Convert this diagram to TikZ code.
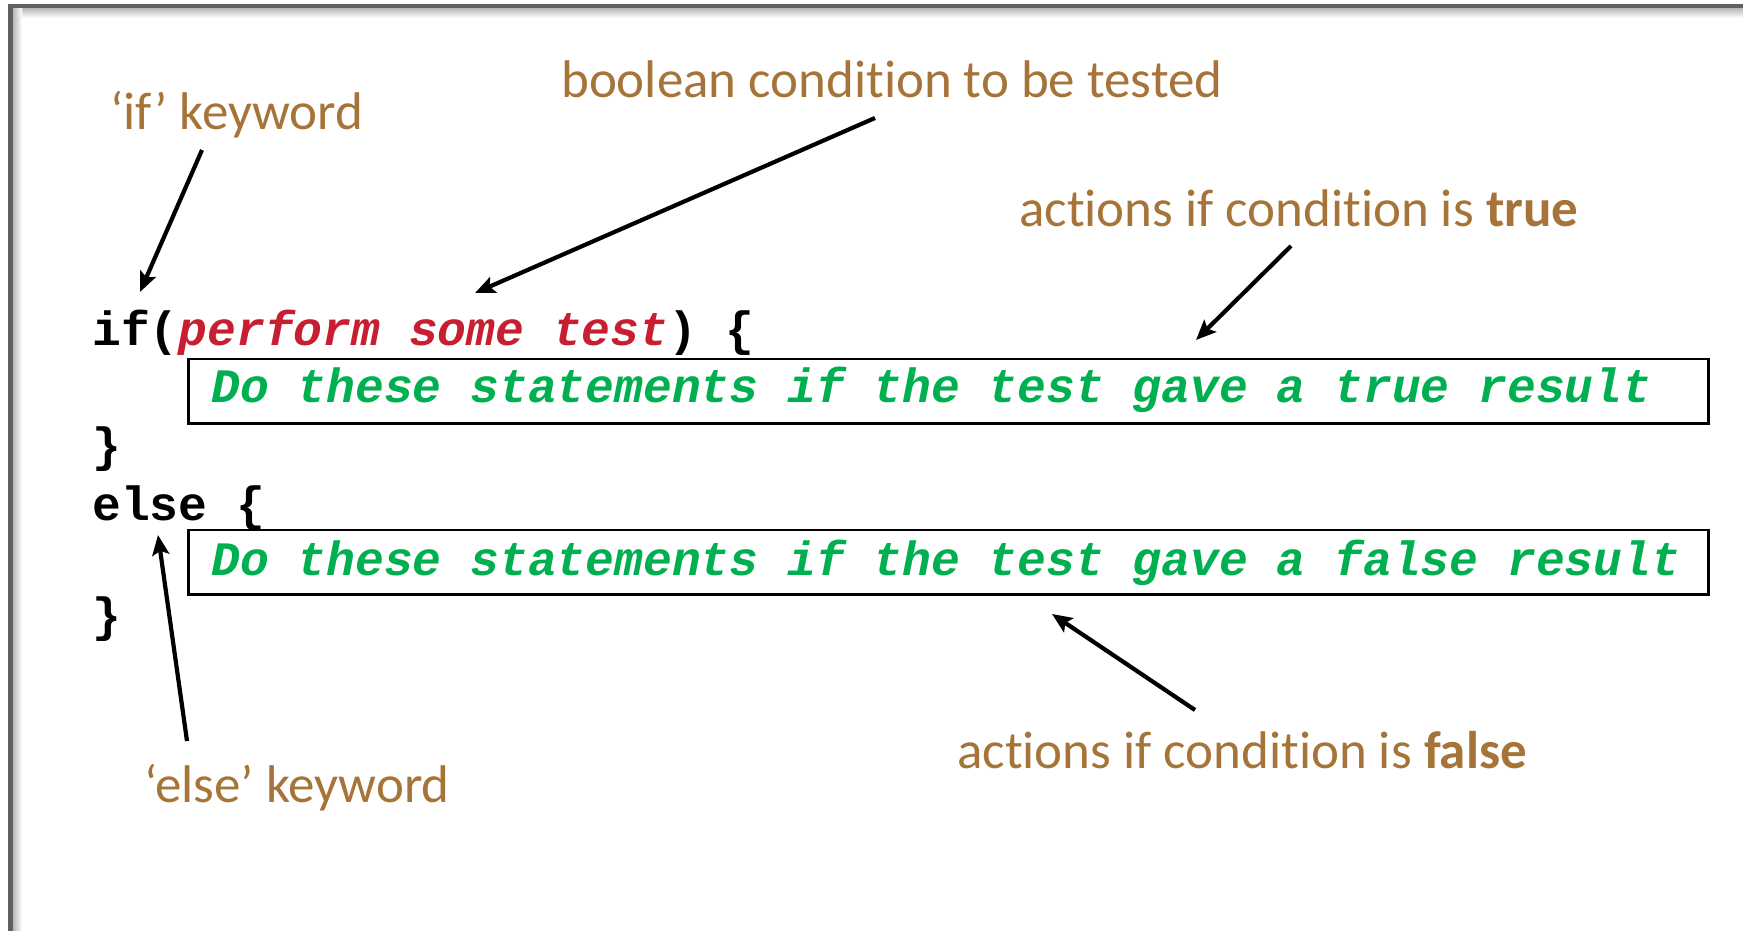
\documentclass[tikz,border=0pt]{standalone}
\usepackage{fontspec}
\setmainfont{Carlito}[Ligatures={NoCommon,NoContextual},RawFeature={-liga;-clig;-calt;-dlig}]
\newfontfamily\codefont{Liberation Mono}
\usetikzlibrary{arrows.meta}
\definecolor{lblbrown}{RGB}{166,115,57}
\definecolor{testred}{RGB}{200,30,50}
\definecolor{stmtgreen}{RGB}{0,176,80}
\definecolor{framegray}{RGB}{96,96,96}
\frenchspacing
\begin{document}
\begin{tikzpicture}[x=1pt,y=-1pt,
  lbl/.style={inner sep=0pt, anchor=base west, text=lblbrown, font=\fontsize{53}{60}\selectfont},
  code/.style={inner sep=0pt, anchor=base west, text=black, font=\codefont\bfseries\fontsize{48}{56}\selectfont},
  stmt/.style={inner sep=0pt, anchor=base west, text=stmtgreen, font=\codefont\bfseries\itshape\fontsize{48}{56}\selectfont},
  stmtbox/.style={draw=black, line width=2.5pt, inner sep=0pt, minimum width=1520pt, minimum height=64.5pt, anchor=north west},
  pointer/.style={draw=black, line width=4.2pt, -{Stealth[length=20pt,width=17pt,inset=4pt]}}]
\useasboundingbox (0,0) rectangle (1743,931);
% frame
\shade[top color=black!28, bottom color=white] (10,8) rectangle (1743,18);
\shade[left color=black!28, right color=white] (13,8) rectangle (22,931);
\draw[framegray, line width=4.5pt] (10.5,931) -- (10.5,6) -- (1743,6);
% code
\node[code] (ifline) at (92,345) {if(\textcolor{testred}{\itshape perform some test}) \{};
\node[stmtbox] (box1) at (187,357.5) {};
\node[stmt] (stmt1) at (211,402) {Do these statements if the test gave a true result};
\node[code] (close1) at (92,461) {\}};
\node[code] (elseline) at (92,520) {else \{};
\node[stmtbox] (box2) at (187,528.5) {};
\node[stmt] (stmt2) at (211,575) {Do these statements if the test gave a false result};
\node[code] (close2) at (92,631) {\}};
% labels
\node[lbl] (ifkw) at (110,130) {‘if’ keyword};
\node[lbl] (boolkw) at (561,98) {boolean condit\kern0pt ion to be tested};
\node[lbl] (truekw) at (1019,226) {actions if condit\kern0pt ion is \textbf{true}};
\node[lbl] (falsekw) at (957,768) {actions if condit\kern0pt ion is \textbf{false}};
\node[lbl] (elsekw) at (144,802) {‘else’ keyword};
% arrow ends
\coordinate (a1s) at (202,150); \coordinate (a1e) at (140,292);
\coordinate (a2s) at (875,118); \coordinate (a2e) at (475,293);
\coordinate (a3s) at (1291,246); \coordinate (a3e) at (1196,340);
\coordinate (a4s) at (187,741); \coordinate (a4e) at (158,535);
\coordinate (a5s) at (1195,710); \coordinate (a5e) at (1052,614);
\draw[pointer] (a1s) -- (a1e);
\draw[pointer] (a2s) -- (a2e);
\draw[pointer] (a3s) -- (a3e);
\draw[pointer] (a4s) -- (a4e);
\draw[pointer] (a5s) -- (a5e);
\end{tikzpicture}
\end{document}
